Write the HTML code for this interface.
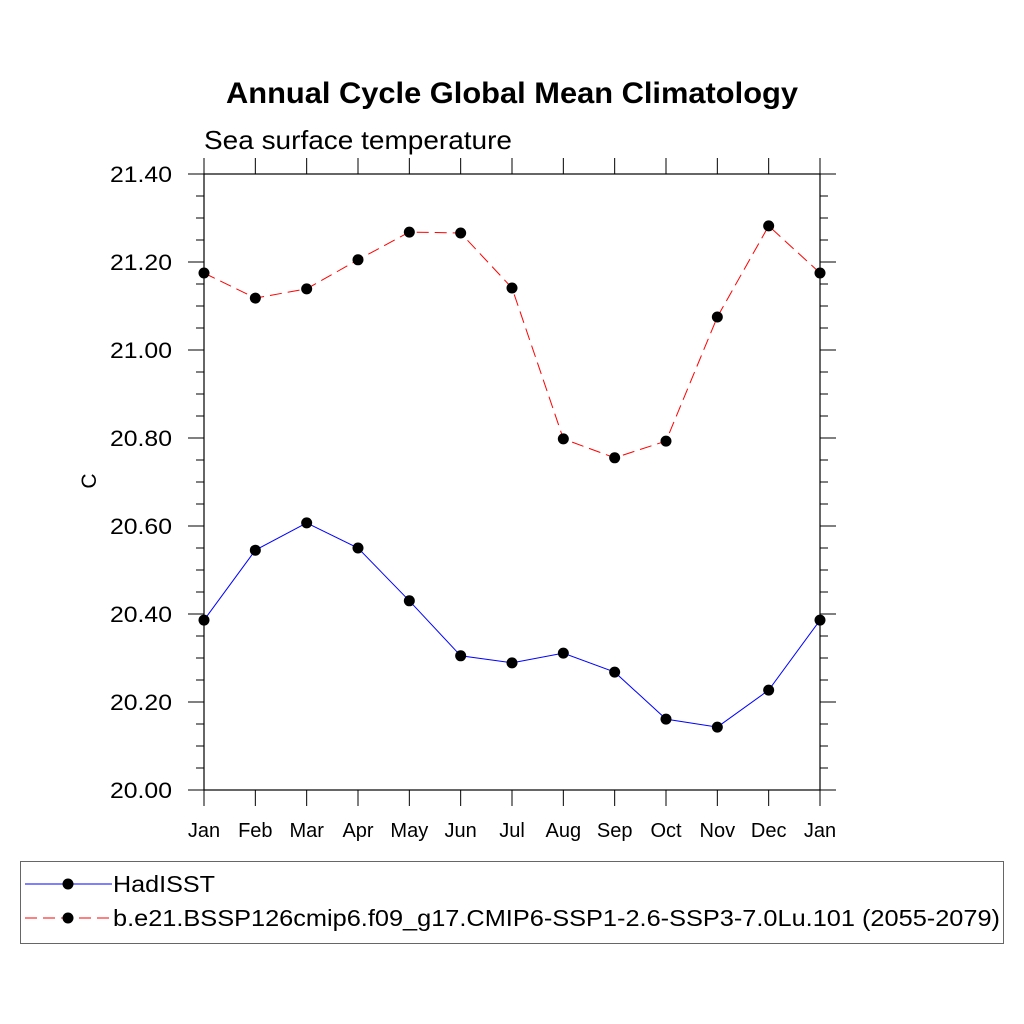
<!DOCTYPE html>
<html><head><meta charset="utf-8"><style>
html,body{margin:0;padding:0;background:#fff}
svg{display:block;font-family:"Liberation Sans",sans-serif}
</style></head><body>
<svg id="chart" width="1024" height="1024" viewBox="0 0 1024 1024">
<text x="512" y="103" text-anchor="middle" font-size="30" font-weight="bold" textLength="572" lengthAdjust="spacingAndGlyphs">Annual Cycle Global Mean Climatology</text>
<text x="204" y="149" font-size="26" textLength="308" lengthAdjust="spacingAndGlyphs">Sea surface temperature</text>
<text transform="translate(96,481) rotate(-90)" text-anchor="middle" font-size="21">C</text>
<g id="axes"></g>
<g id="series"></g>
<rect x="20.5" y="861.5" width="983" height="82" fill="none" stroke="#666" stroke-width="1"/>
<g>
<line x1="25" y1="884" x2="112" y2="884" stroke="#00f" stroke-width="1"/>
<circle cx="68" cy="884" r="5.5" fill="#000"/>
<text x="113" y="892" font-size="23" textLength="102" lengthAdjust="spacingAndGlyphs">HadISST</text>
</g>
<g>
<line x1="25" y1="918" x2="112" y2="918" stroke="#f00" stroke-width="1" stroke-dasharray="12,6"/>
<circle cx="68" cy="918" r="5.5" fill="#000"/>
<text x="113" y="926" font-size="23" textLength="887" lengthAdjust="spacingAndGlyphs">b.e21.BSSP126cmip6.f09_g17.CMIP6-SSP1-2.6-SSP3-7.0Lu.101 (2055-2079)</text>
</g>
</svg>
<script>
const months = ["Jan","Feb","Mar","Apr","May","Jun","Jul","Aug","Sep","Oct","Nov","Dec","Jan"];
const hadisst = [20.386,20.545,20.607,20.550,20.430,20.305,20.289,20.311,20.268,20.161,20.143,20.227,20.386];
const model = [21.175,21.118,21.139,21.205,21.268,21.266,21.141,20.798,20.755,20.793,21.075,21.282,21.175];
const yTicks = ["20.00","20.20","20.40","20.60","20.80","21.00","21.20","21.40"];

const NS="http://www.w3.org/2000/svg";
const L=204,R=820,T=174,B=790,yMin=20,yMax=21.4;
const x=i=>L+i*(R-L)/(months.length-1);
const y=v=>B-(v-yMin)/(yMax-yMin)*(B-T);
function mk(tag,attrs,parent){const e=document.createElementNS(NS,tag);for(const k in attrs)e.setAttribute(k,attrs[k]);parent.appendChild(e);return e;}
const ax=document.getElementById('axes');
const frame=mk('rect',{x:L,y:T,width:R-L,height:B-T,fill:'none',stroke:'#000','stroke-width':1.2},ax);


for(let v=yMin;v<=yMax+1e-9;v+=0.05){
  const major=Math.abs(Math.round(v/0.2)*0.2-v)<1e-6;
  const len=major?16:8;const yy=y(v);
  mk('line',{x1:L-len,y1:yy,x2:L,y2:yy,stroke:'#000','stroke-width':1},ax);
  mk('line',{x1:R,y1:yy,x2:R+len,y2:yy,stroke:'#000','stroke-width':1},ax);
}
yTicks.forEach(t=>{
  const e=mk('text',{x:172,y:y(parseFloat(t))+8,'text-anchor':'end','font-size':22,textLength:62,lengthAdjust:'spacingAndGlyphs'},ax);
  e.textContent=t;
  
  
});
months.forEach((m,i)=>{
  const xx=x(i);
  mk('line',{x1:xx,y1:B,x2:xx,y2:B+16,stroke:'#000','stroke-width':1},ax);
  mk('line',{x1:xx,y1:T-16,x2:xx,y2:T,stroke:'#000','stroke-width':1},ax);
  const e=mk('text',{x:xx,y:837,'text-anchor':'middle','font-size':20},ax);
  e.textContent=m;
  
  
});
const sg=document.getElementById('series');
function draw(vals,color,dash,name){
  const g=mk('g',{},sg);
  
  
  const pts=vals.map((v,i)=>x(i)+','+y(v)).join(' ');
  const a={points:pts,fill:'none',stroke:color,'stroke-width':1};
  if(dash)a['stroke-dasharray']=dash;
  mk('polyline',a,g);
  vals.forEach((v,i)=>{
    const c=mk('circle',{cx:x(i),cy:y(v),r:5.5,fill:'#000'},g);
    
    
  });
}
draw(model,'#f00','12,6','model-series');
draw(hadisst,'#00f',null,'hadisst-series');
</script>
</body></html>
